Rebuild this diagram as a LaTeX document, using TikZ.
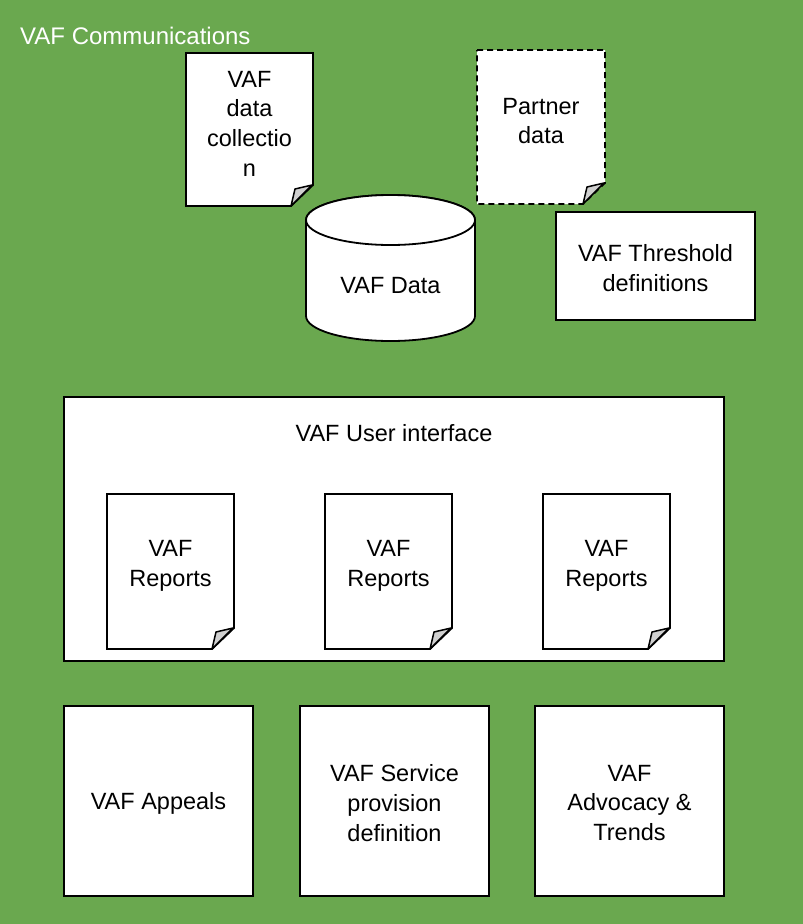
\documentclass[tikz,border=0pt]{standalone}
\usepackage{fontspec}
\setmainfont{Liberation Sans}
\definecolor{bggreen}{HTML}{6AA84F}
\definecolor{foldgray}{HTML}{D0D0D0}
\tikzset{
  outl/.style={draw=black, line width=1.8pt, fill=white, line join=miter},
  txt/.style={align=center, font=\fontsize{23.5}{29.7}\selectfont, inner sep=0pt},
  boxnode/.style={outl, inner sep=0pt},
  foldst/.style={draw=black, line width=1.5pt, fill=foldgray, line join=round},
}
% #1 extra style, #2 name, #3 x0, #4 y0, #5 x1, #6 y1, #7 text
\newcommand\docnote[7]{%
  \draw[outl,#1] (#3,#4) -- (#5,#4) -- (#5,#6-21) -- (#5-22,#6) -- (#3,#6) -- cycle;
  \draw[foldst] (#5-22,#6) -- (#5-18,#6-17) -- (#5-1,#6-21) -- cycle;
  \node[txt] (#2) at ({(#3+#5)/2},{(#4+#6)/2-6}) {#7};
}
\begin{document}
\begin{tikzpicture}[x=1pt,y=-1pt]
\useasboundingbox (0,0) rectangle (803,924);
\fill[bggreen] (0,0) rectangle (803,924);
\node[txt, anchor=base west, text=white, font=\fontsize{24}{29}\selectfont] (title) at (20,44) {VAF Communications};

% document notes
\docnote{}{datacoll}{186}{53}{313}{206}{VAF\\data\\collectio\\n}
\docnote{dash pattern=on 6pt off 4pt}{partner}{477}{50}{605}{204}{Partner\\data}

% cylinder
\draw[outl] (306,220) -- (306,316) arc[start angle=180,end angle=360,x radius=84.5pt,y radius=25pt] -- (475,220) arc[start angle=0,end angle=180,x radius=84.5pt,y radius=25pt] -- cycle;
\draw[outl] (390.5,220) ellipse[x radius=84.5pt, y radius=25pt];
\node[txt] (vafdata) at (390.5,286) {VAF Data};

% threshold
\node[boxnode, txt, draw, minimum width=199pt, minimum height=108pt] (thresh) at (655.5,266) {};
\node[txt] (threshlabel) at (655.5,268) {VAF Threshold\\definitions};

% user interface
\node[boxnode, minimum width=660pt, minimum height=264pt] (ui) at (394,529) {};
\node[txt] (uilabel) at (394,433) {VAF User interface};
\docnote{}{rep1}{107}{494}{234}{649}{VAF\\Reports}
\docnote{}{rep2}{325}{494}{452}{649}{VAF\\Reports}
\docnote{}{rep3}{543}{494}{670}{649}{VAF\\Reports}

% bottom boxes
\node[boxnode, minimum width=189pt, minimum height=190pt] (appeals) at (158.5,801) {};
\node[boxnode, minimum width=189pt, minimum height=190pt] (service) at (394.5,801) {};
\node[boxnode, minimum width=189pt, minimum height=190pt] (advocacy) at (629.5,801) {};
\node[txt] (appealslabel) at (158.5,803) {VAF Appeals};
\node[txt] (servicelabel) at (394.5,803) {VAF Service\\provision\\definition};
\node[txt] (advocacylabel) at (629.5,803) {VAF\\Advocacy \&\\Trends};
\end{tikzpicture}
\end{document}
